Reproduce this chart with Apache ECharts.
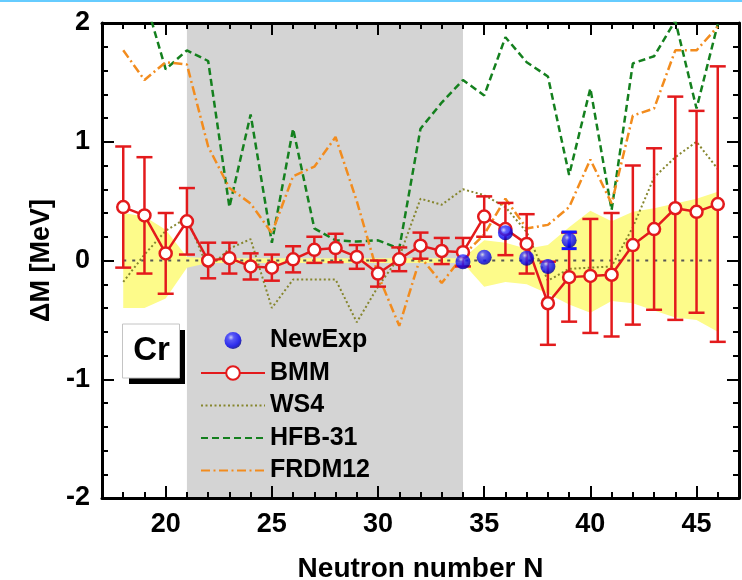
<!DOCTYPE html>
<html><head><meta charset="utf-8">
<script src="https://cdn.jsdelivr.net/npm/echarts@6/dist/echarts.min.js"></script>
<style>html,body{margin:0;padding:0;background:#fff}#c{width:742px;height:580px}</style>
</head><body><div id="c"></div>
<script>
// ---- data ----
const N        = [18,19,20,21,22,23,24,25,26,27,28,29,30,31,32,33,34,35,36,37,38,39,40,41,42,43,44,45,46];
const bmm      = [0.45,0.38,0.06,0.33,0.00,0.02,-0.05,-0.06,0.01,0.09,0.105,0.03,-0.11,0.01,0.125,0.08,0.07,0.37,0.265,0.14,-0.36,-0.14,-0.13,-0.12,0.13,0.265,0.44,0.41,0.475];
const bmmErr   = [0.51,0.49,0.34,0.28,0.15,0.13,0.11,0.11,0.11,0.11,0.12,0.10,0.11,0.10,0.11,0.11,0.12,0.17,0.22,0.25,0.35,0.375,0.48,0.52,0.67,0.68,0.94,0.85,1.16];
const ws4      = [-0.18,0.05,0.25,0.36,-0.07,0.10,0.18,-0.40,-0.16,-0.16,-0.16,-0.52,-0.22,0.03,0.52,0.47,0.60,0.55,0.45,0.24,-0.17,-0.07,-0.06,-0.05,0.28,0.70,0.87,1.00,0.77];
const hfb31    = [2.40,2.22,1.61,1.77,1.68,0.45,1.23,0.15,1.11,0.27,0.17,0.16,0.17,0.10,1.11,1.33,1.52,1.39,1.88,1.67,1.55,0.72,1.45,0.425,1.66,1.72,2.02,1.28,1.99];
const frdm12   = [1.77,1.52,1.67,1.65,0.96,0.61,0.48,0.23,0.71,0.79,1.04,0.50,-0.12,-0.55,0.03,-0.19,0.04,0.22,0.52,0.27,0.30,0.45,0.85,0.48,1.22,1.28,1.77,1.77,1.97];
const bandUp   = [0.40,0.37,0.26,0.03,0.02,0.02,0.02,0.02,0.02,0.02,0.02,0.02,0.02,0.02,0.02,0.02,0.02,0.17,0.15,0.10,0.13,0.28,0.42,0.33,0.41,0.44,0.48,0.52,0.58];
const bandLow  = [-0.40,-0.40,-0.32,-0.06,-0.02,-0.02,-0.02,-0.02,-0.02,-0.02,-0.02,-0.02,-0.02,-0.02,-0.02,-0.02,-0.02,-0.22,-0.18,-0.20,-0.28,-0.37,-0.44,-0.34,-0.36,-0.42,-0.48,-0.50,-0.60];
const expN     = [34,35,36,37,38,39];
const expVal   = [-0.01,0.027,0.234,0.02,-0.05,0.17];
const expErr   = [0,0,0,0,0,0.07];
const shaded   = [21,34];
const xRange   = [17,47];
const yRange   = [-2,2];
const xTicks   = [20,25,30,35,40,45];
const element  = 'Cr';

// ---- styles ----
const FONT = 'Liberation Sans, Arial, sans-serif';
const RED = '#e31a1c', BLUE = '#1414ff', OLIVE = '#86862e', GREEN = '#14801e', ORANGE = '#f28c1e', YELLOW = '#fdfb8a', GRAY = '#d4d4d4';

const pairs = (xs, ys) => xs.map((x, i) => [x, ys[i]]);
const triples = (xs, ys, es) => xs.map((x, i) => [x, ys[i], es[i]]);

function errRender(color, half, lw) {
  return function (params, api) {
    const x = api.value(0), y = api.value(1), e = api.value(2);
    if (!e) return null;
    const t = api.coord([x, y + e]);
    const b = api.coord([x, y - e]);
    const st = { stroke: color, lineWidth: lw, fill: null };
    return { type: 'group', children: [
      { type: 'line', shape: { x1: t[0], y1: t[1], x2: b[0], y2: b[1] }, style: st },
      { type: 'line', shape: { x1: t[0] - half, y1: t[1], x2: t[0] + half, y2: t[1] }, style: st },
      { type: 'line', shape: { x1: b[0] - half, y1: b[1], x2: b[0] + half, y2: b[1] }, style: st }
    ]};
  };
}

const labelStyle = { fontSize: 27, fontWeight: 'bold', color: '#000', fontFamily: FONT };
const axLine = { show: true, onZero: false, lineStyle: { color: '#000', width: 3 } };
const tickLS = { color: '#000', width: 2 };

const chart = echarts.init(document.getElementById('c'), null, { renderer: 'canvas' });
chart.setOption({
  backgroundColor: '#fff',
  animation: false,
  grid: { left: 102, right: 3, top: 23, bottom: 82, containLabel: false, outerBoundsMode: 'none' },
  xAxis: [
    { type: 'value', position: 'bottom', min: xRange[0], max: xRange[1], interval: 1,
      axisLine: axLine, axisTick: { show: true, inside: true, length: 6, lineStyle: tickLS },
      axisLabel: Object.assign({ show: true, customValues: xTicks, margin: 13 }, labelStyle),
      splitLine: { show: false },
      name: 'Neutron number N', nameLocation: 'middle', nameGap: 57,
      nameTextStyle: { fontSize: 28, fontWeight: 'bold', color: '#000', fontFamily: FONT } },
    { type: 'value', position: 'bottom', min: xRange[0], max: xRange[1],
      axisLine: { show: false, onZero: false },
      axisTick: { show: true, inside: true, length: 12, customValues: xTicks, lineStyle: tickLS },
      axisLabel: { show: false }, splitLine: { show: false } },
    { type: 'value', position: 'top', min: xRange[0], max: xRange[1], interval: 1,
      axisLine: axLine, axisTick: { show: true, inside: true, length: 6, lineStyle: tickLS },
      axisLabel: { show: false }, splitLine: { show: false } },
    { type: 'value', position: 'top', min: xRange[0], max: xRange[1],
      axisLine: { show: false, onZero: false },
      axisTick: { show: true, inside: true, length: 12, customValues: xTicks, lineStyle: tickLS },
      axisLabel: { show: false }, splitLine: { show: false } }
  ],
  yAxis: [
    { type: 'value', position: 'left', min: yRange[0], max: yRange[1], interval: 1,
      axisLine: axLine, axisTick: { show: true, inside: true, length: 12, lineStyle: tickLS },
      minorTick: { show: true, splitNumber: 5, length: 6, lineStyle: tickLS },
      axisLabel: Object.assign({ margin: 12, showMinLabel: true, showMaxLabel: true }, labelStyle),
      splitLine: { show: false }, minorSplitLine: { show: false },
      name: 'ΔM [MeV]', nameLocation: 'middle', nameGap: 41,
      nameTextStyle: { fontSize: 27, fontWeight: 'bold', color: '#000', fontFamily: FONT } },
    { type: 'value', position: 'right', min: yRange[0], max: yRange[1], interval: 1,
      axisLine: axLine, axisTick: { show: true, inside: true, length: 12, lineStyle: tickLS },
      minorTick: { show: true, splitNumber: 5, length: 6, lineStyle: tickLS },
      axisLabel: { show: false }, splitLine: { show: false }, minorSplitLine: { show: false } }
  ],
  legend: {
    data: [
      { name: 'NewExp' },
      { name: 'BMM' },
      { name: 'WS4', itemStyle: { opacity: 0 } },
      { name: 'HFB-31', itemStyle: { opacity: 0 } },
      { name: 'FRDM12', itemStyle: { opacity: 0 } }
    ],
    orient: 'vertical', left: 200, top: 328, padding: 0,
    itemWidth: 64, itemHeight: 17, itemGap: 7.5, selectedMode: false,
    textStyle: { fontSize: 25, fontWeight: 'bold', color: '#000', fontFamily: FONT, lineHeight: 25 }
  },
  series: [
    { name: 'shade', type: 'custom', z: 0, silent: true, data: [shaded],
      renderItem: function (params, api) {
        const p0 = api.coord([api.value(0), yRange[1]]);
        const p1 = api.coord([api.value(1), yRange[0]]);
        return { type: 'rect', shape: { x: p0[0], y: p0[1], width: p1[0] - p0[0], height: p1[1] - p0[1] }, style: { fill: GRAY } };
      } },
    { name: 'band', type: 'custom', z: 1, silent: true, data: [[N[0], 0]],
      renderItem: function (params, api) {
        const pts = [];
        N.forEach((n, i) => pts.push(api.coord([n, bandUp[i]])));
        for (let i = N.length - 1; i >= 0; i--) pts.push(api.coord([N[i], bandLow[i]]));
        return { type: 'polygon', shape: { points: pts }, style: { fill: YELLOW } };
      } },
    { name: 'zero', type: 'line', z: 2, silent: true, symbol: 'none',
      lineStyle: { color: '#555', width: 1.8, type: [3, 6] },
      data: [[N[0], 0], [N[N.length - 1], 0]] },
    { name: 'WS4', type: 'line', z: 3, symbol: 'none', color: OLIVE,
      lineStyle: { color: OLIVE, width: 2, type: [2, 2.5] }, data: pairs(N, ws4) },
    { name: 'HFB-31', type: 'line', z: 3, symbol: 'none', color: GREEN,
      lineStyle: { color: GREEN, width: 2.5, type: [7, 4] }, data: pairs(N, hfb31) },
    { name: 'FRDM12', type: 'line', z: 3, symbol: 'none', color: ORANGE,
      lineStyle: { color: ORANGE, width: 2.5, type: [9, 3.5, 2, 3.5] }, data: pairs(N, frdm12) },
    { name: 'bmmErr', type: 'custom', z: 5, silent: true, renderItem: errRender(RED, 8, 2.5),
      data: triples(N, bmm, bmmErr) },
    { name: 'BMM', type: 'line', z: 6, symbol: 'circle', symbolSize: 12, showSymbol: true,
      itemStyle: { color: '#fff', borderColor: RED, borderWidth: 2.5 },
      lineStyle: { color: RED, width: 2.5 }, data: pairs(N, bmm) },
    { name: 'expErr', type: 'custom', z: 7, silent: true, renderItem: errRender(BLUE, 7.5, 3),
      data: triples(expN, expVal, expErr) },
    { name: 'NewExp', type: 'scatter', z: 8, symbol: 'circle', symbolSize: 15,
      itemStyle: { color: { type: 'radial', x: 0.38, y: 0.32, r: 0.7, colorStops: [
        { offset: 0, color: '#c8ccff' }, { offset: 0.25, color: '#3a3aff' }, { offset: 0.75, color: '#0000f0' }, { offset: 1, color: '#00008c' } ] } },
      data: pairs(expN, expVal) }
  ],
  graphic: [
    { type: 'rect', z: 100, shape: { x: 0, y: 0, width: 742, height: 2 }, style: { fill: '#66ccff' } },
    { type: 'rect', z: 100, shape: { x: 129, y: 330, width: 56, height: 54 }, style: { fill: '#000' } },
    { type: 'rect', z: 101, shape: { x: 122.5, y: 324, width: 57, height: 54 }, style: { fill: '#fff', stroke: '#c4c4c4', lineWidth: 1 } },
    { type: 'text', z: 102, x: 151.5, y: 351, style: { text: element, fontSize: 33, fontWeight: 'bold', fontFamily: FONT, fill: '#000', align: 'center', verticalAlign: 'middle' } }
  ]
});
</script>
</body></html>
